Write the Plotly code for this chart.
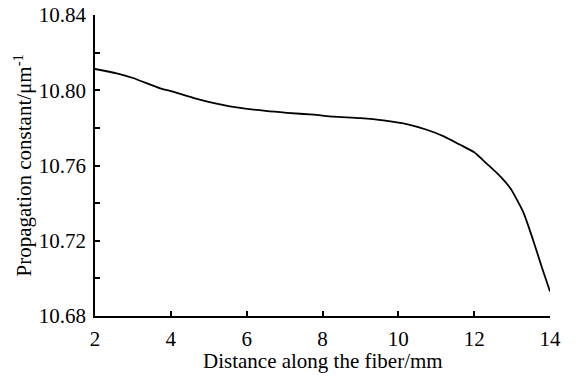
import plotly.graph_objects as go

distance_mm = [2.0, 2.57, 3.0, 3.72, 4.0, 4.59, 5.30, 5.83, 6.5, 7.06, 7.76, 8.29, 9.0, 9.61, 10.22, 10.75, 11.2, 11.63, 12.0, 12.33, 12.65, 12.95, 13.30, 13.56, 13.8, 14.0]
prop_const = [10.8113, 10.809, 10.8065, 10.801, 10.7995, 10.796, 10.7925, 10.7906, 10.789, 10.788, 10.787, 10.786, 10.7852, 10.784, 10.782, 10.779, 10.7755, 10.771, 10.767, 10.761, 10.755, 10.748, 10.735, 10.720, 10.705, 10.693]

x_ticks = [2, 4, 6, 8, 10, 12, 14]
y_ticks = [10.68, 10.72, 10.76, 10.80, 10.84]

x_title = "Distance along the fiber/mm"
y_title = "Propagation constant/μm<sup>-1</sup>"

font_family = "Liberation Serif, Times New Roman, serif"
FS = 21
W, H = 576, 382
L, T = 95, 15
pw, ph = 455, 301
R = W - L - pw
B = H - T - ph

fig = go.Figure()
fig.add_trace(go.Scatter(
    x=distance_mm, y=prop_const, mode="lines",
    line=dict(color="black", width=1.8, shape="spline", smoothing=0.6),
    showlegend=False, hoverinfo="skip"))

fig.update_layout(
    width=W, height=H,
    margin=dict(l=L, r=R, t=T, b=B),
    paper_bgcolor="white", plot_bgcolor="white",
    font=dict(family=font_family, size=FS, color="black"),
)
fig.update_xaxes(
    range=[2, 14], tickvals=x_ticks, ticktext=[str(v) for v in x_ticks],
    showgrid=False, zeroline=False, showline=True, linecolor="black", linewidth=1.5,
    ticks="inside", ticklen=5, tickwidth=1.5, tickcolor="black", mirror=False,
    automargin=False, tickfont=dict(size=FS, family=font_family), ticklabelstandoff=3,
)
fig.update_yaxes(
    range=[10.68, 10.84], tickvals=y_ticks, ticktext=[f"{v:.2f}" for v in y_ticks],
    showgrid=False, zeroline=False, showline=True, linecolor="black", linewidth=1.5,
    ticks="inside", ticklen=5, tickwidth=1.5, tickcolor="black", mirror=False,
    minor=dict(ticks="inside", dtick=0.02, tick0=10.68, ticklen=5, tickwidth=1.5, tickcolor="black", showgrid=False),
    automargin=False, tickfont=dict(size=FS, family=font_family), ticklabelstandoff=3,
)
fig.add_annotation(
    text=x_title, xref="paper", yref="paper",
    x=0.5, y=(T + ph - 361) / ph, xanchor="center", yanchor="middle",
    showarrow=False, font=dict(size=FS, family=font_family, color="black"))
fig.add_annotation(
    text=y_title, xref="paper", yref="paper", textangle=-90,
    x=(23 - L) / pw, y=0.5, xanchor="center", yanchor="middle",
    showarrow=False, font=dict(size=FS, family=font_family, color="black"))

fig.write_html("out.html", config={"displayModeBar": False},
               post_script="document.body.style.margin='0px';document.body.style.overflow='hidden';")
